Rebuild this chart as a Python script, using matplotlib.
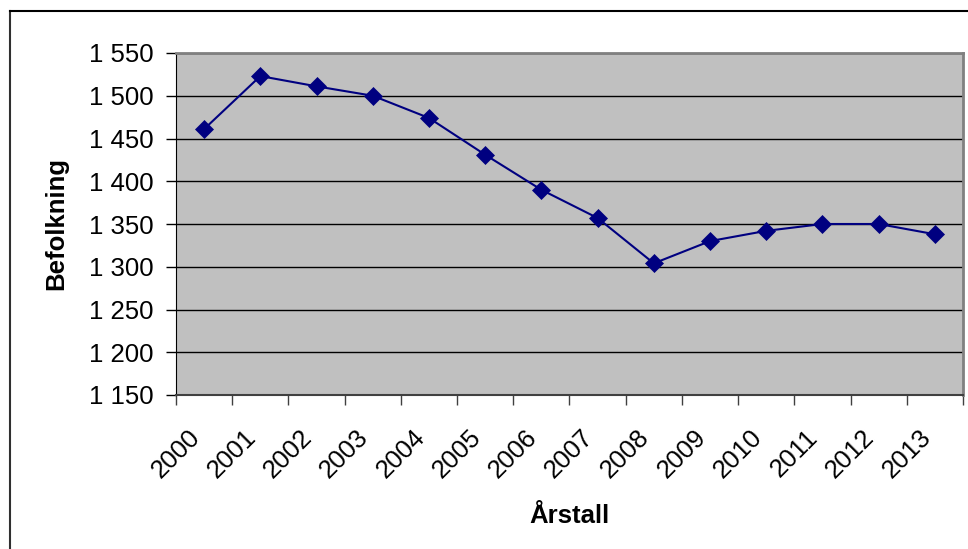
import matplotlib.pyplot as plt
from matplotlib.ticker import FuncFormatter, FixedLocator
from matplotlib.lines import Line2D
from matplotlib.transforms import ScaledTranslation

plt.rcParams['font.family'] = ['Liberation Sans', 'DejaVu Sans']

# population per year
years = ['2000', '2001', '2002', '2003', '2004', '2005', '2006',
         '2007', '2008', '2009', '2010', '2011', '2012', '2013']
befolkning = [1461, 1523, 1511, 1500, 1474, 1431, 1390,
              1357, 1304, 1330, 1342, 1350, 1350, 1338]
y_ticks = [1150, 1200, 1250, 1300, 1350, 1400, 1450, 1500, 1550]

fig = plt.figure(figsize=(9.68, 5.49), dpi=100)
ax = fig.add_axes([176/968, 1-395/549, (963-176)/968, (395-53)/549])
ax.set_facecolor('#c0c0c0')

x = list(range(len(years)))
ax.plot(x, befolkning, color='#000080', lw=1.5, marker='D', ms=9.5, mew=0.5,
        markerfacecolor='#000080', markeredgecolor='#000080', zorder=3)

ax.set_xlim(-0.5, len(years) - 0.5)
ax.set_ylim(y_ticks[0], y_ticks[-1])
ax.set_yticks(y_ticks)
ax.yaxis.set_major_formatter(FuncFormatter(lambda v, p: f'{int(v):,}'.replace(',', ' ')))
ax.grid(axis='y', color='black', lw=1)
ax.set_axisbelow(True)

# ticks at category boundaries, labels at centres
ax.xaxis.set_major_locator(FixedLocator([i - 0.5 for i in range(len(years) + 1)]))
ax.xaxis.set_minor_locator(FixedLocator(x))
ax.set_xticklabels([])
ax.tick_params(axis='x', which='major', length=7, width=1, color='#404040')
ax.tick_params(axis='x', which='minor', length=0, pad=28)
ax.tick_params(axis='y', length=7, width=1, labelsize=18.5, pad=9)
ax.set_xticklabels(years, minor=True, rotation=45, ha='right', va='center',
                   rotation_mode='anchor', fontsize=18.5)
# Excel puts the rotated labels a bit left of the category centre
shift = ScaledTranslation(-0.08, 0, fig.dpi_scale_trans)
for lab in ax.get_xticklabels(minor=True):
    lab.set_transform(lab.get_transform() + shift)

for s in ['top', 'right']:
    ax.spines[s].set_color('#808080')
    ax.spines[s].set_linewidth(2)
ax.spines['left'].set_color('black')
ax.spines['bottom'].set_color('#404040')
ax.spines['bottom'].set_linewidth(1.5)

ax.set_ylabel('Befolkning', fontsize=18.5, fontweight='bold', labelpad=15)
ax.set_xlabel('Årstall', fontsize=18.5, fontweight='bold', labelpad=15)

# outer chart border (top and left only visible)
fig.add_artist(Line2D([10/968, 10/968], [0, 1-11/549], color='#303030', lw=1.5,
                      transform=fig.transFigure))
fig.add_artist(Line2D([10/968, 1], [1-11/549, 1-11/549], color='black', lw=1.5,
                      transform=fig.transFigure))

fig.savefig('out.png', dpi=100)
